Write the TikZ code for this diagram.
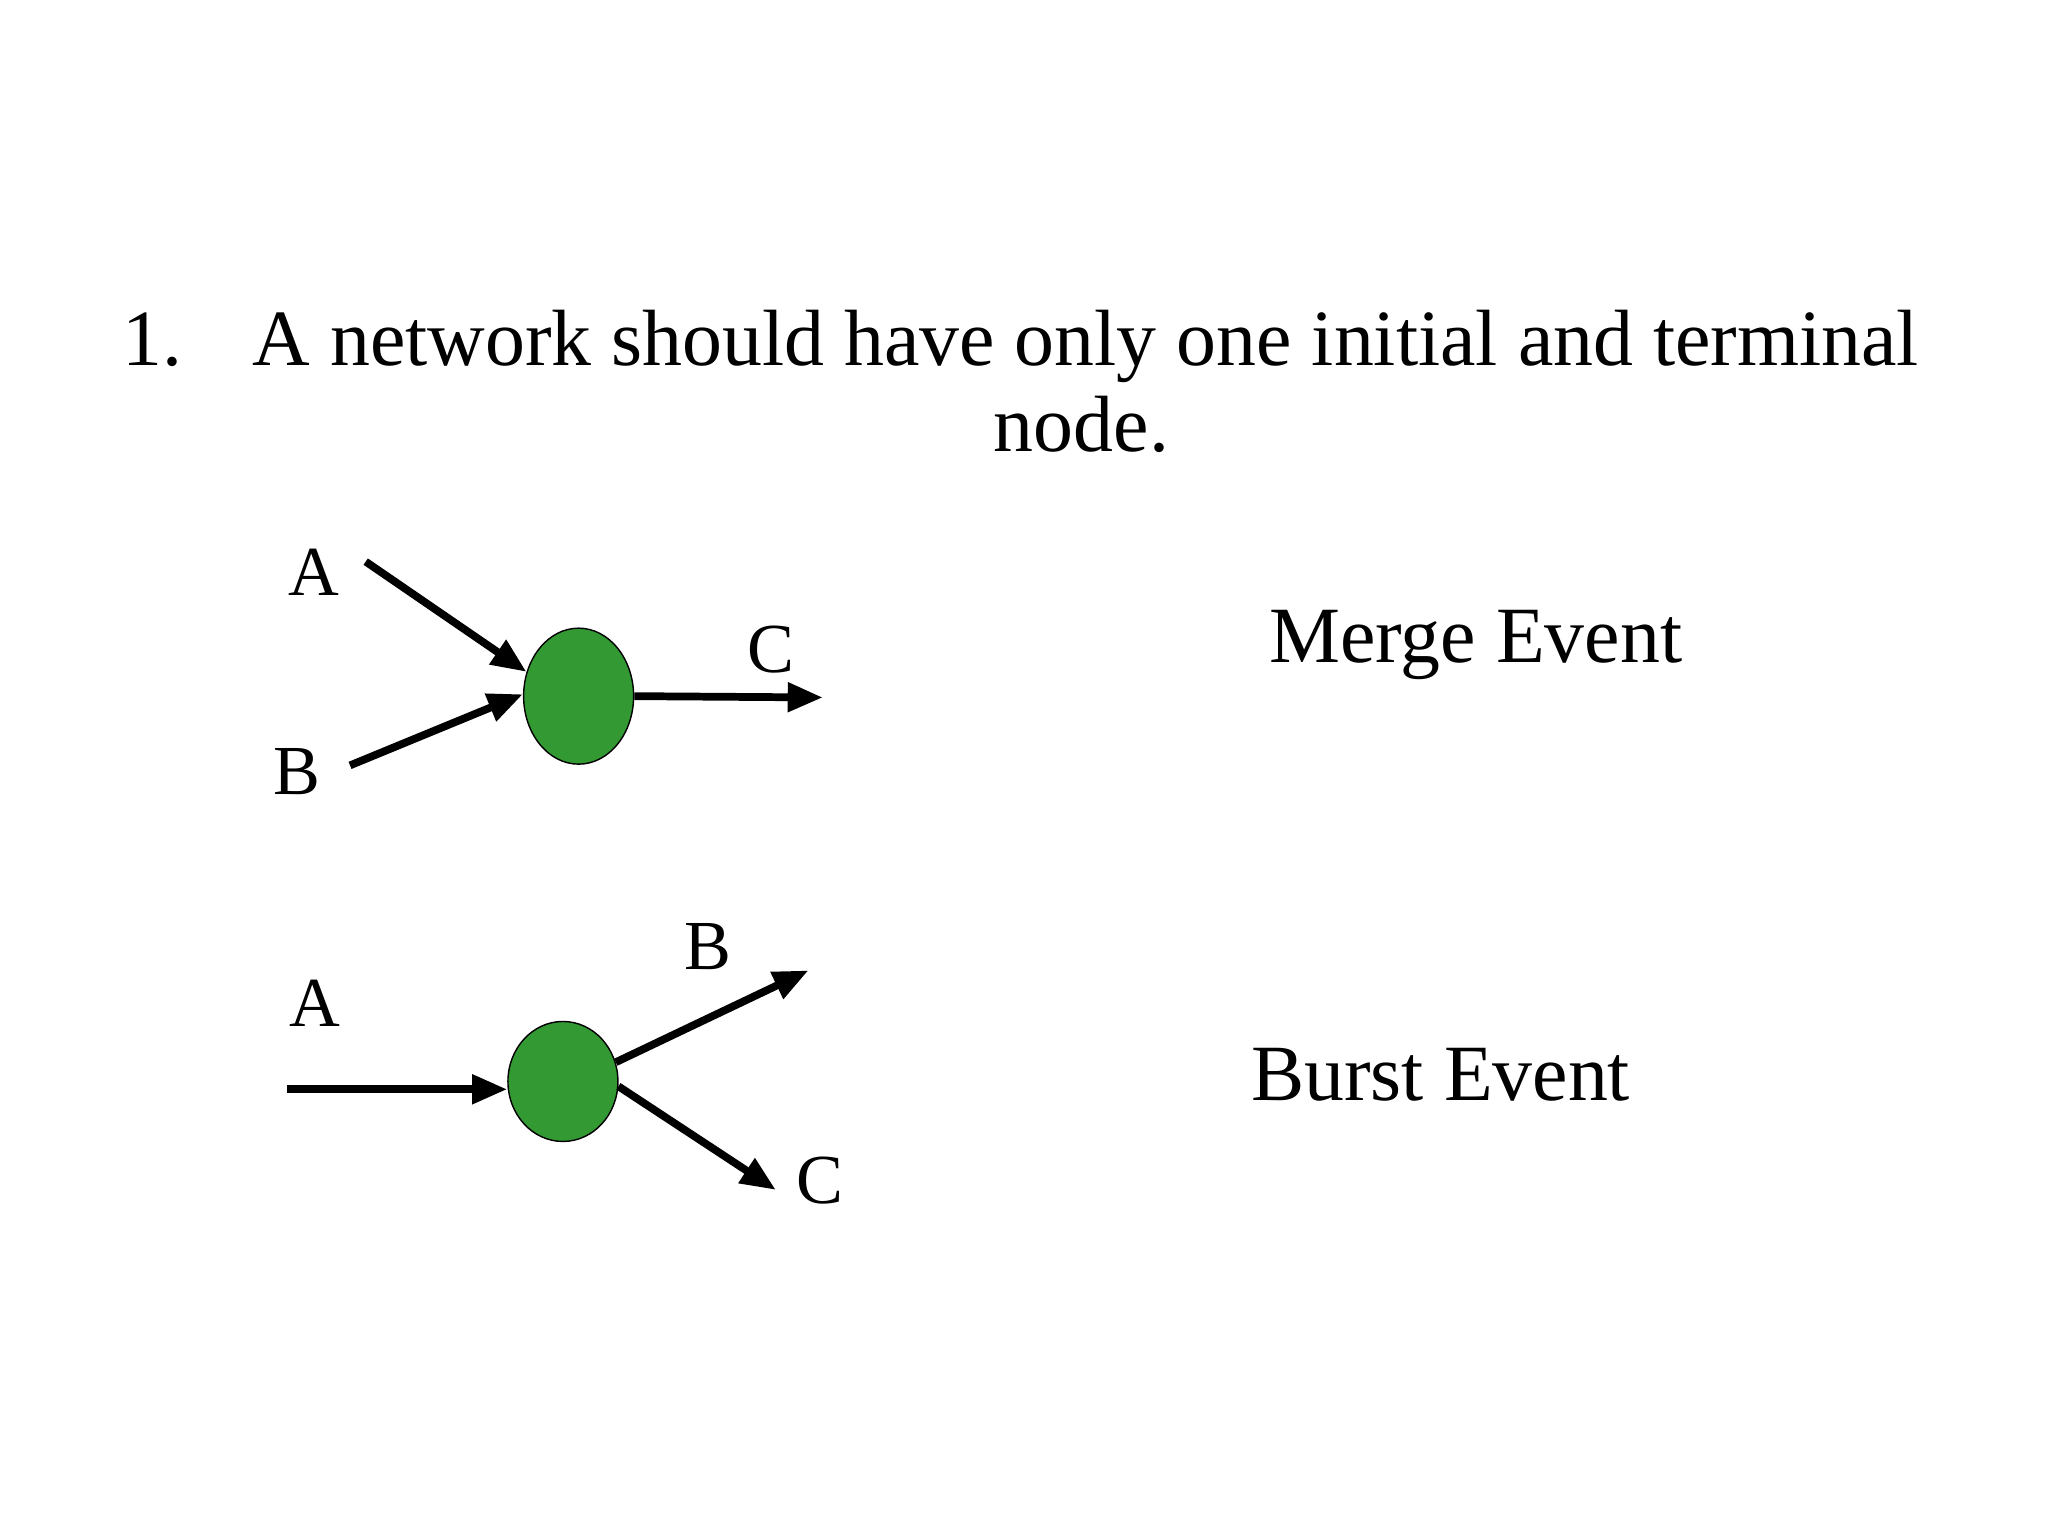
\documentclass[tikz,border=0pt]{standalone}
\usepackage{fontspec}
\setmainfont{Liberation Serif}
\usetikzlibrary{shapes.geometric,arrows.meta}
\begin{document}
\begin{tikzpicture}[x=0.01306cm,y=-0.01306cm,
  ev/.style={ellipse,draw=black,fill=evgreen,inner sep=0},
  ar/.style={line width=2.2pt,-{Triangle[length=10pt,width=8pt]}},
  lab/.style={font=\fontsize{20}{24}\selectfont},
  big/.style={font=\fontsize{22.7}{27}\selectfont}]
\definecolor{evgreen}{HTML}{339933}
\useasboundingbox (0,0) rectangle (1568,1176);
\node[big,anchor=base west] (n1) at (84,280) {1.};
\node[big,anchor=base west] (t1) at (184,280) {A network should have only one initial and terminal};
\node[big,anchor=base] (t2) at (828,346) {node.};
% merge
\node[ev,minimum width=1.10cm,minimum height=1.36cm] (m) at (443,533) {};
\coordinate (ma) at (280,430);
\coordinate (mb) at (268,586);
\coordinate (mc) at (630,534);
\draw[ar] (ma) -- (m.155);
\draw[ar] (mb) -- (m.178);
\draw[ar] (m.east) -- (mc);
\node[lab] (la) at (240,438) {A};
\node[lab] (lb) at (227,591) {B};
\node[lab] (lc) at (590,497) {C};
\node[big] (me) at (1130,494) {Merge Event};
% burst
\node[ev,minimum width=1.10cm,minimum height=1.20cm] (b) at (431,828) {};
\coordinate (ba) at (220,834);
\coordinate (bb) at (619,743);
\coordinate (bc) at (594,911);
\draw[ar] (ba) -- (b.west|-ba);
\draw[ar] (b.20) -- (bb);
\draw[ar] (b.-5) -- (bc);
\node[lab] (la2) at (241,768) {A};
\node[lab] (lb2) at (542,725) {B};
\node[lab] (lc2) at (628,904) {C};
\node[big] (be) at (1103,823) {Burst Event};
\end{tikzpicture}
\end{document}
